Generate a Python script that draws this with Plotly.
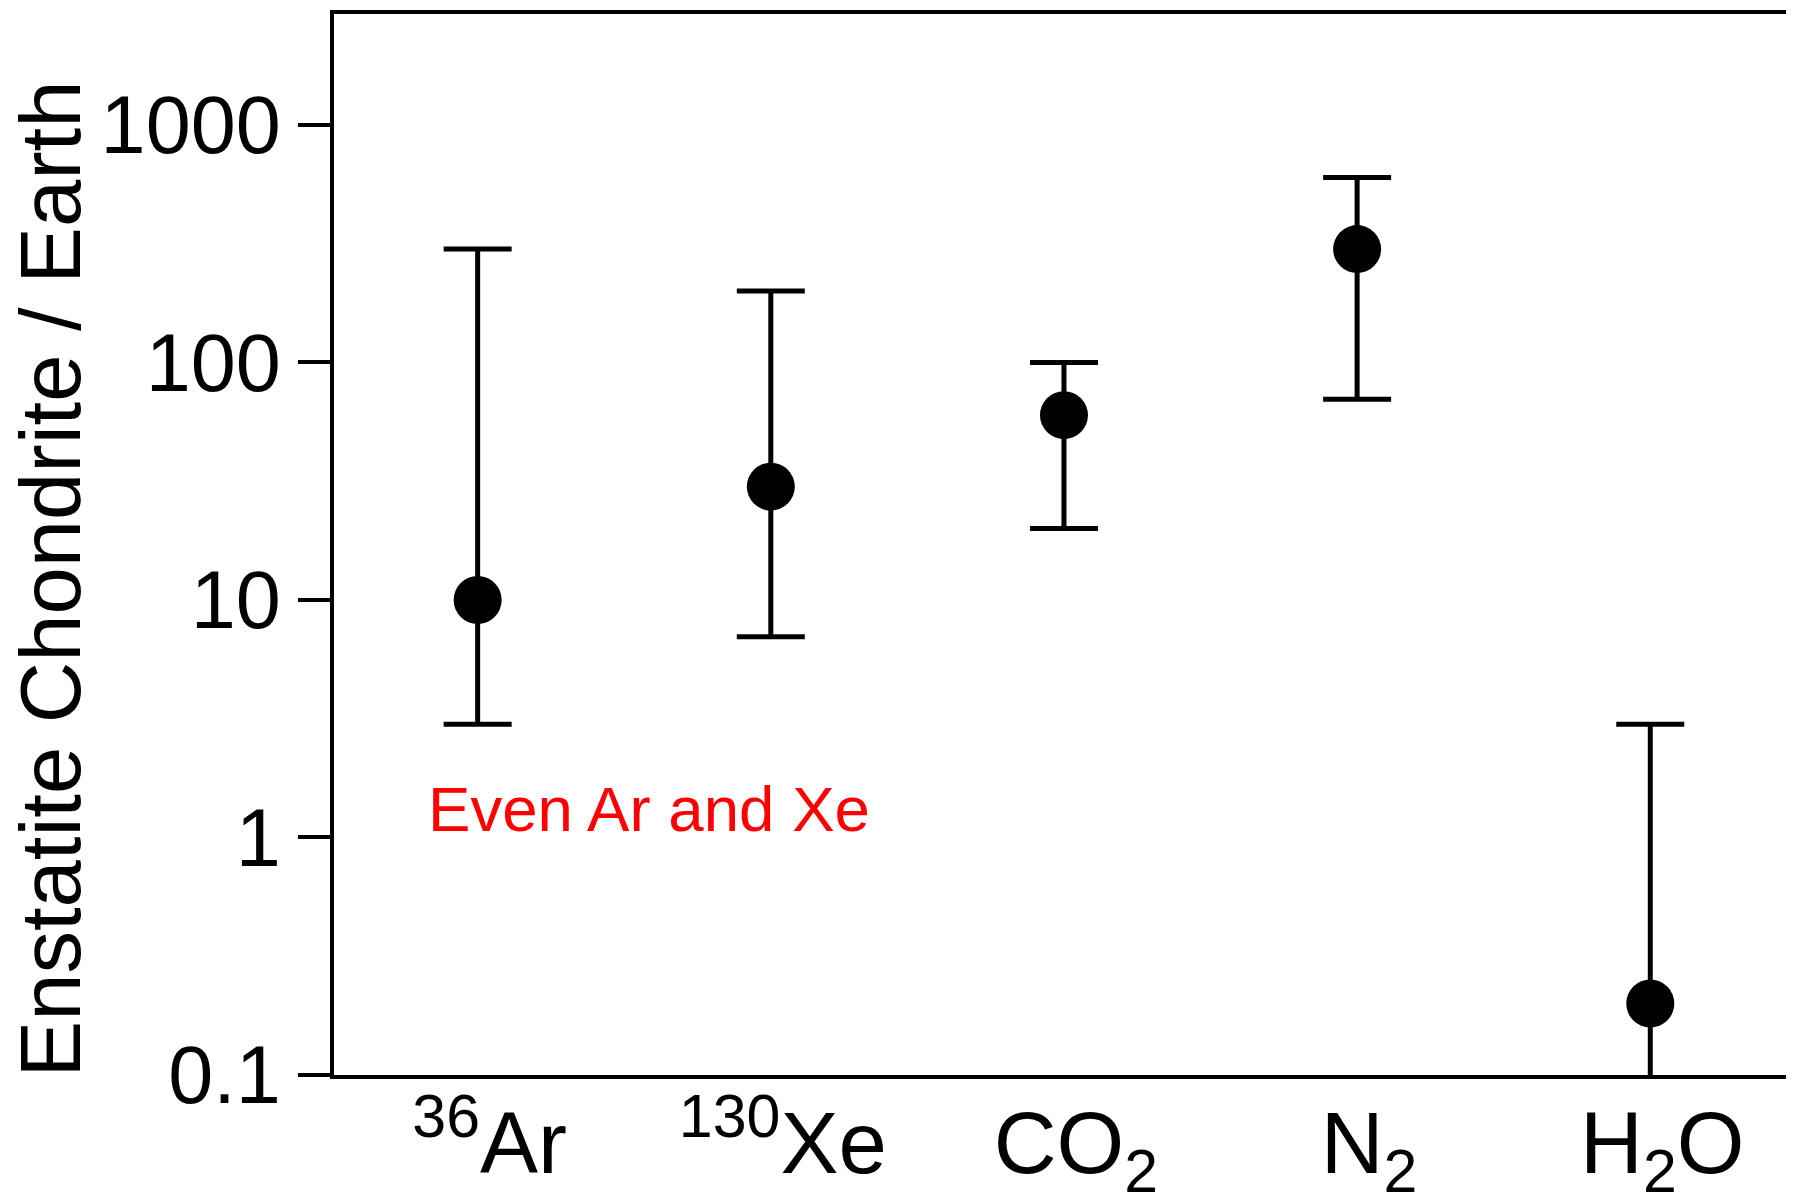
import numpy as np
import plotly.graph_objects as go

# ---- data ----
species = ["<sup>36</sup>Ar", "<sup>130</sup>Xe", "CO<sub>2</sub>", "N<sub>2</sub>", "H<sub>2</sub>O"]
ratio = [10, 30, 60, 300, 0.2]
ratio_high = [300, 200, 100, 600, 3]
ratio_low = [3, 7, 20, 70, 0.05]
ytick_vals = [0.1, 1, 10, 100, 1000]
ytick_text = ["0.1", "1", "10", "100", "1000"]
note_text = "Even Ar and Xe"
ytitle = "Enstatite Chondrite / Earth"

xpos = list(range(len(species)))
err_plus = [h - v for h, v in zip(ratio_high, ratio)]
err_minus = [v - l for v, l in zip(ratio, ratio_low)]

FONT = "Liberation Sans, Arial, Helvetica, sans-serif"

# page has an 8px body margin: figure is placed at (8, 8)
OFF = 8
W, H = 1794 - OFF, 1201 - OFF
L, R, T, B = 334 - OFF, 3, 14 - OFF, 126
pw = W - L - R
ph = H - T - B

fig = go.Figure()
fig.add_trace(go.Scatter(
    x=xpos, y=ratio, mode="markers",
    marker=dict(color="black", size=48, line=dict(width=0)),
    error_y=dict(type="data", symmetric=False, array=err_plus, arrayminus=err_minus,
                 color="black", thickness=5, width=34),
    showlegend=False, hoverinfo="skip",
))

fig.update_layout(
    width=W, height=H,
    margin=dict(l=L, r=R, t=T, b=B, pad=0, autoexpand=False),
    paper_bgcolor="white", plot_bgcolor="white",
    font=dict(family=FONT, color="black"),
    showlegend=False,
)

fig.update_xaxes(
    range=[-0.49, 4.48], automargin=False,
    tickmode="array", tickvals=xpos, ticktext=species,
    ticks="", showgrid=False, zeroline=False,
    showline=True, linecolor="black", linewidth=4, mirror=True,
    tickfont=dict(family=FONT, size=87, color="black"),
    ticklabelstandoff=-10, ticklabelshift=12,
)
fig.update_yaxes(
    type="log", range=[-1, 3.467], automargin=False,
    tickmode="array", tickvals=ytick_vals, ticktext=ytick_text,
    ticks="outside", ticklen=32, tickwidth=4, tickcolor="black",
    showgrid=False, zeroline=False,
    showline=True, linecolor="black", linewidth=4, mirror=True,
    tickfont=dict(family=FONT, size=81, color="black"),
    ticklabelstandoff=1,
)

# y-axis title as rotated annotation
fig.add_annotation(
    text=ytitle, textangle=-90, showarrow=False,
    xref="paper", yref="paper",
    x=(49.5 - OFF - L) / pw, y=(1077 - 581) / ph,
    xanchor="center", yanchor="middle",
    font=dict(family=FONT, size=85, color="black"),
)

# red note
fig.add_annotation(
    text=note_text, showarrow=False,
    xref="paper", yref="paper",
    x=(426 - OFF - L) / pw, y=(1077 - 810) / ph,
    xanchor="left", yanchor="middle",
    font=dict(family=FONT, size=63.6, color="red"),
)

fig.write_html("out.html")
